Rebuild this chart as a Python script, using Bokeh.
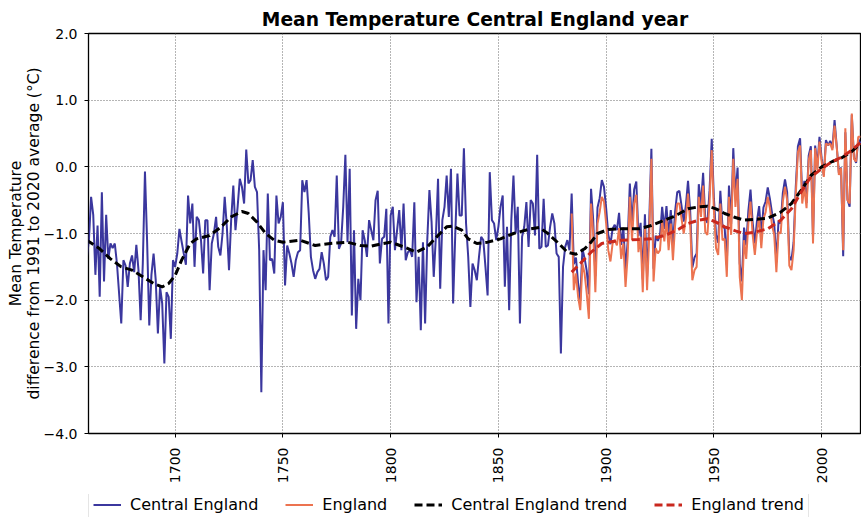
import math
from bokeh.plotting import figure
from bokeh.layouts import column
from bokeh.models import Range1d, FixedTicker, Legend, LegendItem
from bokeh.embed import file_html
from bokeh.resources import INLINE

# ---------------- data (anomalies vs 1991-2020, degC) ----------------
cet_start_year = 1659
cet_values = [
    -1.37, -1.10, -0.45, -0.72, -1.62, -0.88, -1.95, -0.38, -1.72, -0.72, -1.38,   # 1659-1669
    -1.15, -1.22, -1.15, -1.45, -1.90, -2.35, -1.40, -1.48, -1.80, -1.45,          # 1670s
    -1.33, -1.58, -1.17, -1.55, -2.30, -1.45, -0.07, -1.12, -2.38, -1.62,          # 1680s
    -1.30, -1.70, -2.50, -1.80, -2.05, -2.95, -1.88, -1.95, -2.58, -1.40,          # 1690s
    -1.50, -1.30, -0.93, -1.12, -1.30, -1.47, -0.43, -0.85, -0.55, -1.50,          # 1700s
    -0.75, -0.80, -1.10, -1.60, -0.80, -0.80, -1.85, -1.15, -1.00, -0.75,          # 1710s
    -1.20, -1.33, -1.00, -0.45, -0.90, -1.55, -0.80, -0.28, -0.95, -0.60,          # 1720s
    -0.18, -0.30, -0.55, 0.26, -0.25, -0.20, 0.10, -0.30, -0.38, -1.25,            # 1730s
    -3.38, -1.25, -1.85, -0.40, -1.40, -1.38, -1.60, -0.43, -0.85, -0.75,          # 1740s
    -0.53, -1.78, -1.18, -1.30, -1.45, -1.65, -1.40, -1.28, -1.25, -0.20,          # 1750s
    -0.38, -0.20, -0.70, -1.35, -1.55, -1.68, -1.58, -1.53, -1.28, -1.45,          # 1760s
    -1.70, -1.65, -1.05, -0.95, -1.05, -0.13, -1.23, -1.15, -0.60, 0.18,           # 1770s
    -1.13, -0.03, -2.23, -0.95, -2.43, -1.68, -2.00, -0.95, -1.10, -1.35,          # 1780s
    -0.80, -0.95, -1.10, -0.50, -0.36, -1.45, -1.08, -1.05, -0.63, -2.35,          # 1790s
    -0.73, -0.60, -1.25, -0.95, -0.65, -1.25, -0.55, -1.40, -1.28, -1.25,          # 1800s
    -1.35, -0.53, -2.03, -1.35, -2.45, -1.13, -2.35, -1.10, -0.35, -0.83,          # 1810s
    -1.65, -1.05, -0.18, -1.83, -0.80, -0.60, -0.13, -0.75, -0.03, -2.05,          # 1820s
    -1.00, -0.10, -0.73, -0.73, 0.28, -0.85, -1.35, -2.10, -1.45, -1.55,           # 1830s
    -1.70, -1.35, -1.05, -1.10, -1.50, -1.93, -0.08, -0.80, -0.85, -1.10,          # 1840s
    -0.90, -0.60, -0.43, -1.80, -0.90, -2.15, -0.80, -0.13, -1.00, -0.60,          # 1850s
    -2.35, -1.05, -0.90, -0.53, -1.20, -0.50, -0.55, -1.03, 0.18, -1.23,           # 1860s
    -1.20, -0.48, -1.20, -1.18, -0.90, -0.70, -0.85, -1.30, -1.35, -2.80,          # 1870s
    -1.50, -1.20, -1.10, -1.25, -0.40, -1.46, -1.36, -1.75, -2.00, -1.23,          # 1880s
    -1.37, -1.56, -1.91, -0.33, -0.80, -1.64, -0.61, -0.47, -0.20, -0.30,          # 1890s
    -0.62, -1.02, -1.16, -0.93, -0.87, -0.95, -0.69, -1.17, -0.91, -1.55,          # 1900s
    -1.12, -0.25, -0.89, -0.34, -0.22, -1.04, -0.84, -1.69, -0.71, -1.65,          # 1910s
    -0.82, 0.27, -1.53, -1.03, -1.11, -1.03, -0.60, -0.93, -0.59, -1.04,           # 1920s
    -0.65, -1.19, -0.67, -0.38, -0.36, -0.59, -0.82, -0.58, -0.21, -0.66,          # 1930s
    -1.51, -1.36, -1.30, -0.26, -0.57, -0.09, -0.78, -0.84, -0.35, 0.42,           # 1940s
    -0.47, -1.02, -1.14, -0.36, -0.91, -0.91, -1.47, -0.28, -0.86, 0.28,           # 1950s
    -0.43, -0.01, -1.45, -1.72, -0.91, -1.18, -0.66, -0.34, -0.84, -1.15,          # 1960s
    -0.81, -0.59, -1.03, -0.61, -0.52, -0.31, -0.48, -0.70, -0.85, -1.43,          # 1970s
    -0.81, -0.85, -0.39, -0.19, -0.38, -1.34, -1.40, -1.13, -0.30, 0.31,           # 1980s
    0.43, -0.45, -0.21, -0.54, 0.17, 0.31, -1.06, 0.32, 0.01, 0.45,                # 1990s
    0.13, -0.13, 0.40, 0.32, 0.39, 0.28, 0.70, 0.31, -0.09, -0.01,                 # 2000s
    -1.34, 0.52, -0.49, -0.60, 0.78, 0.14, 0.06, 0.42, 0.35,                       # 2010-2018
]
cet_years = list(range(cet_start_year, cet_start_year + len(cet_values)))

eng_start_year = 1884
eng_values = [
    -0.70, -1.85, -1.60, -1.95, -2.15, -1.45,                                      # 1884-1889
    -1.60, -1.90, -2.28, -0.55, -1.00, -1.88, -0.85, -0.68, -0.45, -0.52,          # 1890s
    -0.85, -1.25, -1.42, -1.15, -1.10, -1.18, -0.92, -1.38, -1.15, -1.80,          # 1900s
    -1.33, -0.45, -1.10, -0.55, -0.42, -1.28, -1.05, -1.88, -0.92, -1.85,          # 1910s
    -1.02, 0.12, -1.72, -1.22, -1.30, -1.25, -0.80, -1.12, -0.78, -1.25,           # 1920s
    -0.85, -1.40, -0.88, -0.55, -0.55, -0.78, -1.00, -0.78, -0.40, -0.85,          # 1930s
    -1.70, -1.55, -1.50, -0.45, -0.75, -0.28, -0.98, -1.02, -0.52, 0.25,           # 1940s
    -0.65, -1.22, -1.32, -0.55, -1.10, -1.08, -1.65, -0.45, -1.02, 0.12,           # 1950s
    -0.60, -0.18, -1.65, -2.00, -1.10, -1.38, -0.85, -0.52, -1.02, -1.32,          # 1960s
    -0.98, -0.75, -1.22, -0.78, -0.68, -0.45, -0.62, -0.88, -1.02, -1.58,          # 1970s
    -0.98, -1.00, -0.52, -0.30, -0.50, -1.48, -1.55, -1.25, -0.42, 0.22,           # 1980s
    0.32, -0.55, -0.30, -0.62, 0.10, 0.25, -1.15, 0.28, -0.05, 0.38,               # 1990s
    0.08, -0.15, 0.35, 0.33, 0.35, 0.25, 0.62, 0.30, -0.12, -0.02,                 # 2000s
    -1.25, 0.58, -0.50, -0.55, 0.80, 0.12, 0.08, 0.45, 0.45,                       # 2010-2018
]
eng_years = list(range(eng_start_year, eng_start_year + len(eng_values)))

cet_trend_years = [1659, 1665, 1670, 1675, 1680, 1685, 1690, 1694, 1697, 1700, 1703,
                   1707, 1710, 1716, 1721, 1726, 1731, 1734, 1738, 1742, 1746, 1750,
                   1758, 1765, 1772, 1780, 1786, 1791, 1795, 1800, 1806, 1812, 1817,
                   1822, 1826, 1829, 1833, 1836, 1840, 1845, 1851, 1857, 1865, 1869,
                   1873, 1878, 1882, 1886, 1890, 1893, 1896, 1901, 1907, 1915, 1921,
                   1927, 1931, 1934, 1938, 1943, 1947, 1951, 1955, 1960, 1964, 1969,
                   1975, 1981, 1986, 1991, 1995, 2000, 2005, 2009, 2014, 2018]
cet_trend_values = [-1.10, -1.23, -1.38, -1.50, -1.55, -1.65, -1.75, -1.80, -1.75, -1.63, -1.40,
                    -1.15, -1.08, -1.03, -0.91, -0.75, -0.67, -0.70, -0.83, -1.00, -1.10, -1.13,
                    -1.10, -1.18, -1.15, -1.13, -1.18, -1.19, -1.16, -1.13, -1.20, -1.28, -1.20,
                    -1.03, -0.90, -0.89, -0.95, -1.08, -1.15, -1.13, -1.08, -1.00, -0.93, -0.91,
                    -1.00, -1.15, -1.28, -1.31, -1.23, -1.13, -1.00, -0.94, -0.93, -0.93, -0.88,
                    -0.80, -0.75, -0.70, -0.63, -0.60, -0.59, -0.63, -0.70, -0.76, -0.80, -0.79,
                    -0.77, -0.68, -0.55, -0.33, -0.13, 0.00, 0.08, 0.13, 0.23, 0.35]

eng_trend_years = [1884, 1888, 1893, 1898, 1901, 1907, 1915, 1921, 1927, 1930, 1934, 1938,
                   1943, 1947, 1951, 1955, 1960, 1964, 1969, 1975, 1981, 1986, 1991, 1995,
                   2000, 2005, 2009, 2014, 2018]
eng_trend_values = [-1.58, -1.45, -1.28, -1.15, -1.13, -1.10, -1.09, -1.08, -1.03, -0.99, -0.93, -0.85,
                    -0.80, -0.78, -0.83, -0.90, -0.96, -1.00, -0.98, -0.93, -0.80, -0.63, -0.35, -0.15,
                    -0.03, 0.08, 0.14, 0.25, 0.36]

x_ticks = [1700, 1750, 1800, 1850, 1900, 1950, 2000]
y_ticks = [-4, -3, -2, -1, 0, 1, 2]
y_tick_labels = ["\u22124.0", "\u22123.0", "\u22122.0", "\u22121.0", "0.0", "1.0", "2.0"]

series_labels = ["Central England", "England", "Central England trend", "England trend"]
title_text = "Mean Temperature Central England year"
y_label = "Mean Temperature\ndifference from 1991 to 2020 average (\u00b0C)"

# ---------------- styles ----------------
FONT = "DejaVu Sans"
C_CET, C_ENG, C_CET_TR, C_ENG_TR = "#3b379e", "#ec7350", "black", "#c9281e"

# ---------------- main figure ----------------
p = figure(width=861, height=494, output_backend="svg", toolbar_location=None,
           x_range=Range1d(1659.8, 2018.5), y_range=Range1d(-4, 2),
           min_border_left=88, min_border_right=0, min_border_top=33, min_border_bottom=61)

p.title.text = title_text
p.title.align = "center"
p.title.text_font = FONT
p.title.text_font_size = "18.7px"
p.title.text_font_style = "bold"
p.title.text_color = "black"
p.title.standoff = 7

p.outline_line_color = "black"
p.outline_line_width = 1.3
p.background_fill_color = "white"
p.border_fill_color = "white"

p.xaxis.ticker = FixedTicker(ticks=x_ticks)
p.yaxis.ticker = FixedTicker(ticks=y_ticks)
p.yaxis.major_label_overrides = {t: lab for t, lab in zip(y_ticks, y_tick_labels)}
p.xaxis.major_label_orientation = math.pi / 2

for ax in (p.xaxis, p.yaxis):
    ax.axis_line_color = None
    ax.major_tick_out = 4
    ax.major_tick_in = 0
    ax.minor_tick_out = 0
    ax.minor_tick_in = 0
    ax.major_tick_line_color = "black"
    ax.major_label_text_font = FONT
    ax.major_label_text_font_size = "14px"
    ax.major_label_text_color = "black"

p.xaxis.major_label_standoff = 10
p.yaxis.major_label_standoff = 7
p.yaxis.axis_label = y_label
p.yaxis.axis_label_text_font = FONT
p.yaxis.axis_label_text_font_size = "15.5px"
p.yaxis.axis_label_text_font_style = "normal"
p.yaxis.axis_label_text_color = "black"
p.yaxis.axis_label_text_line_height = 1.0
p.yaxis.axis_label_standoff = -2

p.grid.grid_line_color = "#6a6a6a"
p.grid.grid_line_dash = "1 2"
p.grid.grid_line_width = 1

p.line(cet_years, cet_values, line_color=C_CET, line_width=2)
p.line(eng_years, eng_values, line_color=C_ENG, line_width=2)
p.line(cet_trend_years, cet_trend_values, line_color=C_CET_TR, line_width=3, line_dash="8 4")
p.line(eng_trend_years, eng_trend_values, line_color=C_ENG_TR, line_width=3, line_dash="8 4")

# ---------------- legend strip (separate figure under the chart) ----------------
# The series are drawn again here only so the legend has glyph samples; the
# strip's ranges keep those lines out of view.
lg = figure(width=861, height=23, output_backend="svg", toolbar_location=None,
            x_axis_type=None, y_axis_type=None,
            x_range=Range1d(0, 1), y_range=Range1d(10, 11),
            min_border_left=0, min_border_right=0, min_border_top=0, min_border_bottom=0)
lg.outline_line_color = None
lg.grid.visible = False
lg.background_fill_color = "white"
lg.border_fill_color = "white"

k_cet = lg.line(cet_years, cet_values, line_color=C_CET, line_width=2)
k_eng = lg.line(eng_years, eng_values, line_color=C_ENG, line_width=2)
k_cet_tr = lg.line(cet_trend_years, cet_trend_values, line_color=C_CET_TR, line_width=3,
                   line_dash="8 4")
k_eng_tr = lg.line(eng_trend_years, eng_trend_values, line_color=C_ENG_TR, line_width=3,
                   line_dash="8 4")

legend = Legend(items=[
    LegendItem(label=series_labels[0], renderers=[k_cet]),
    LegendItem(label=series_labels[1], renderers=[k_eng]),
    LegendItem(label=series_labels[2], renderers=[k_cet_tr]),
    LegendItem(label=series_labels[3], renderers=[k_eng_tr]),
], orientation="horizontal", location=(0, -2))
legend.label_text_font = FONT
legend.label_text_font_size = "16px"
legend.label_text_color = "black"
legend.glyph_width = 28
legend.glyph_height = 17
legend.label_height = 17
legend.label_standoff = 9
legend.spacing = 27
legend.padding = 4
legend.margin = 0
legend.border_line_color = "#cccccc"
legend.border_line_width = 1
legend.background_fill_alpha = 0.8
lg.add_layout(legend)

open("out.html", "w").write(file_html(column(p, lg, spacing=0), INLINE))
